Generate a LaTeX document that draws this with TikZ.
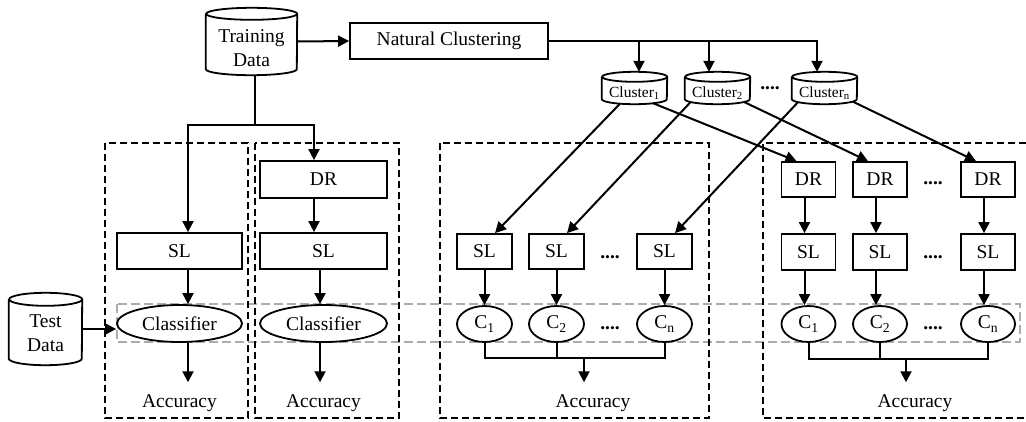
\documentclass[tikz,border=0pt]{standalone}
\usepackage{fontspec}
\setmainfont{Liberation Serif}
\usetikzlibrary{arrows.meta,shapes.geometric,calc}

\newcommand\cylaround[3]{%
  \draw[line width=1.8pt] ([yshift=-#3]#1.north west) -- ([yshift=#3]#1.south west)
    arc[start angle=180,end angle=360,x radius=#2,y radius=#3]
    -- ([yshift=-#3]#1.north east)
    arc[start angle=0,end angle=360,x radius=#2,y radius=#3];}

\tikzset{
  base/.style={font=\rmfamily\fontsize{19.5}{24}\selectfont, inner sep=0pt},
  blk/.style={base, draw, line width=1.8pt, rectangle},
  ell/.style={base, draw, line width=1.8pt, ellipse},
  cyl/.style={base, align=center},
  small/.style={font=\rmfamily\fontsize{15.5}{18}\selectfont, inner sep=0pt},
  arr/.style={line width=2pt, -{Triangle[length=11pt,width=11pt]}},
  ln/.style={line width=2pt},
  dbox/.style={line width=1.7pt, dash pattern=on 7pt off 4pt},
  gbox/.style={line width=1.3pt, gray!65, dash pattern=on 9pt off 4pt},
  dots/.style={base, font=\rmfamily\fontsize{19.5}{24}\selectfont\bfseries},
}

\begin{document}
\begin{tikzpicture}[x=1pt,y=-1pt]
\useasboundingbox (0,0) rectangle (1026,421);

% gray dashed band
\draw[gbox] (117,304) rectangle (1020,342);

% dashed group boxes
\draw[dbox] (105,143) rectangle (248,418);
\draw[dbox] (255,143) rectangle (399,418);
\draw[dbox] (440,143) rectangle (709,418);
\draw[dbox] (1026,143) -- (763,143) -- (763,418) -- (1026,418);

% top part
\node[cyl, minimum width=91pt, minimum height=67pt] (td) at (251.5,41.5)
  {\raisebox{-13pt}[0pt][0pt]{\begin{tabular}{@{}c@{}}Training\\Data\end{tabular}}};
\cylaround{td}{45.5pt}{6pt}
\node[blk, minimum width=198pt, minimum height=36pt] (nc) at (449,41) {Natural Clustering};

\node[small, minimum width=65pt, minimum height=32pt] (c1) at (634.5,88)
  {\raisebox{-9pt}[0pt][0pt]{Cluster\textsubscript{1}}};
\cylaround{c1}{32.5pt}{5pt}
\node[small, minimum width=65pt, minimum height=32pt] (c2) at (717.5,88)
  {\raisebox{-9pt}[0pt][0pt]{Cluster\textsubscript{2}}};
\cylaround{c2}{32.5pt}{5pt}
\node[small, minimum width=65pt, minimum height=32pt] (cn) at (824.5,88)
  {\raisebox{-9pt}[0pt][0pt]{Cluster\textsubscript{n}}};
\cylaround{cn}{32.5pt}{5pt}
\node[dots] (cdots) at (770,88) {....};

% test data
\node[cyl, minimum width=73pt, minimum height=72pt] (tsd) at (45.5,329)
  {\raisebox{-11pt}[0pt][0pt]{\begin{tabular}{@{}c@{}}Test\\Data\end{tabular}}};
\cylaround{tsd}{36.5pt}{6.5pt}

% left column A
\node[blk, minimum width=125pt, minimum height=36pt] (slA) at (179.5,251) {SL};
\node[ell, minimum width=125pt, minimum height=37pt] (clA) at (179.5,323.5) {Classifier};
\node[base] (accA) at (179.5,403) {Accuracy};

% column B
\node[blk, minimum width=127pt, minimum height=37pt] (drB) at (323.5,179.5) {DR};
\node[blk, minimum width=127pt, minimum height=36pt] (slB) at (323.5,251) {SL};
\node[ell, minimum width=127pt, minimum height=37pt] (clB) at (323.5,323.5) {Classifier};
\node[base] (accB) at (323.5,403) {Accuracy};

% box 3
\foreach \n/\x in {s1/484.5, s2/556.5, sn/664.5}
  \node[blk, minimum width=55pt, minimum height=35pt] (\n) at (\x,251.5) {SL};
\node[ell, minimum width=55pt, minimum height=36pt] (k1) at (484.5,324) {C\textsubscript{1}};
\node[ell, minimum width=55pt, minimum height=36pt] (k2) at (556.5,324) {C\textsubscript{2}};
\node[ell, minimum width=55pt, minimum height=36pt] (kn) at (664.5,324) {C\textsubscript{n}};
\node[dots] (dots3a) at (610,257) {....};
\node[dots] (dots3b) at (610,328) {....};
\node[base] (acc3) at (593,403) {Accuracy};

% box 4
\foreach \n/\x in {d1/808.5, d2/880, d3/988}
  \node[blk, minimum width=54pt, minimum height=35pt] (\n) at (\x,179.5) {DR};
\foreach \n/\x in {t1/808.5, t2/880, t3/988}
  \node[blk, minimum width=54pt, minimum height=36pt] (\n) at (\x,252) {SL};
\node[ell, minimum width=54pt, minimum height=36pt] (e1) at (808.5,324) {C\textsubscript{1}};
\node[ell, minimum width=54pt, minimum height=36pt] (e2) at (880,324) {C\textsubscript{2}};
\node[ell, minimum width=54pt, minimum height=36pt] (e3) at (988,324) {C\textsubscript{n}};
\node[dots] (dots4a) at (933,183) {....};
\node[dots] (dots4b) at (933,257) {....};
\node[dots] (dots4c) at (933,328) {....};
\node[base] (acc4) at (915,403) {Accuracy};

% connectors top
\draw[arr] (td.east) -- (nc.west);
\coordinate (dn) at ([xshift=-7.5pt]cn.north);
\coordinate (dA) at ([xshift=4.5pt]c1.north);
\coordinate (dB) at ([xshift=-8.5pt]c2.north);
\draw[arr] (nc.east) -| (dn);
\draw[arr] (dA |- nc.east) -- (dA);
\draw[arr] (dB |- nc.east) -- (dB);

\coordinate (split) at (255,125);
\draw[ln] ([xshift=3.5pt]td.south) -- (split);
\draw[arr] (split) -| ([xshift=8.5pt]slA.north);
\draw[arr] (split) -| ([xshift=-9.5pt]drB.north);

% columns A and B
\draw[arr] ([xshift=8.5pt]slA.south) -- ([xshift=8.5pt]clA.north);
\draw[arr] ([xshift=8.5pt]clA.south) -- ([xshift=8.5pt,yshift=12pt]accA.north);
\draw[arr] ([xshift=-9.5pt]drB.south) -- ([xshift=-9.5pt]slB.north);
\draw[arr] ([xshift=-3.5pt]slB.south) -- ([xshift=-3.5pt]clB.north);
\draw[arr] ([xshift=-3.5pt]clB.south) -- ([xshift=-3.5pt,yshift=12pt]accB.north);
\draw[arr] (tsd.east) -- (tsd.east -| clA.west);

% diagonals from clusters
\draw[arr] ([xshift=-14.5pt,yshift=0.5pt]c1.south) -- ([xshift=10.5pt]s1.north);
\draw[arr] ([xshift=18.5pt,yshift=1pt]c1.south) -- ([xshift=-12pt]d1.north);
\draw[arr] ([xshift=-27pt,yshift=2pt]c2.south) -- ([xshift=10.5pt]s2.north);
\draw[arr] ([xshift=27pt,yshift=2pt]c2.south) -- ([xshift=-12pt]d2.north);
\draw[arr] ([xshift=-26.5pt,yshift=2pt]cn.south) -- ([xshift=10.5pt]sn.north);
\draw[arr] ([xshift=28.5pt,yshift=2.5pt]cn.south) -- ([xshift=-12pt]d3.north);

% box 3 internals
\draw[arr] (s1.south) -- (k1.north);
\draw[arr] (s2.south) -- (k2.north);
\draw[arr] (sn.south) -- (kn.north);
\coordinate (bus3) at (584,358);
\coordinate (acc3top) at ([yshift=12pt]acc3.north);
\draw[ln] (k1.south) -- (k1.south |- bus3) -- (kn.south |- bus3) -- (kn.south);
\draw[ln] (k2.south) -- (k2.south |- bus3);
\draw[arr] (bus3) -- (bus3 |- acc3top);

% box 4 internals
\foreach \a/\b/\c in {d1/t1/e1, d2/t2/e2, d3/t3/e3}{
  \draw[arr] ([xshift=-4pt]\a.south) -- ([xshift=-4pt]\b.north);
  \draw[arr] ([xshift=-4pt]\b.south) -- ([xshift=-4pt]\c.north);
}
\coordinate (bus4) at (906,359);
\coordinate (acc4top) at ([yshift=12pt]acc4.north);
\draw[ln] (e1.south) -- (e1.south |- bus4) -- (e3.south |- bus4) -- (e3.south);
\draw[ln] (e2.south) -- (e2.south |- bus4);
\draw[arr] (bus4) -- (bus4 |- acc4top);
\end{tikzpicture}
\end{document}
